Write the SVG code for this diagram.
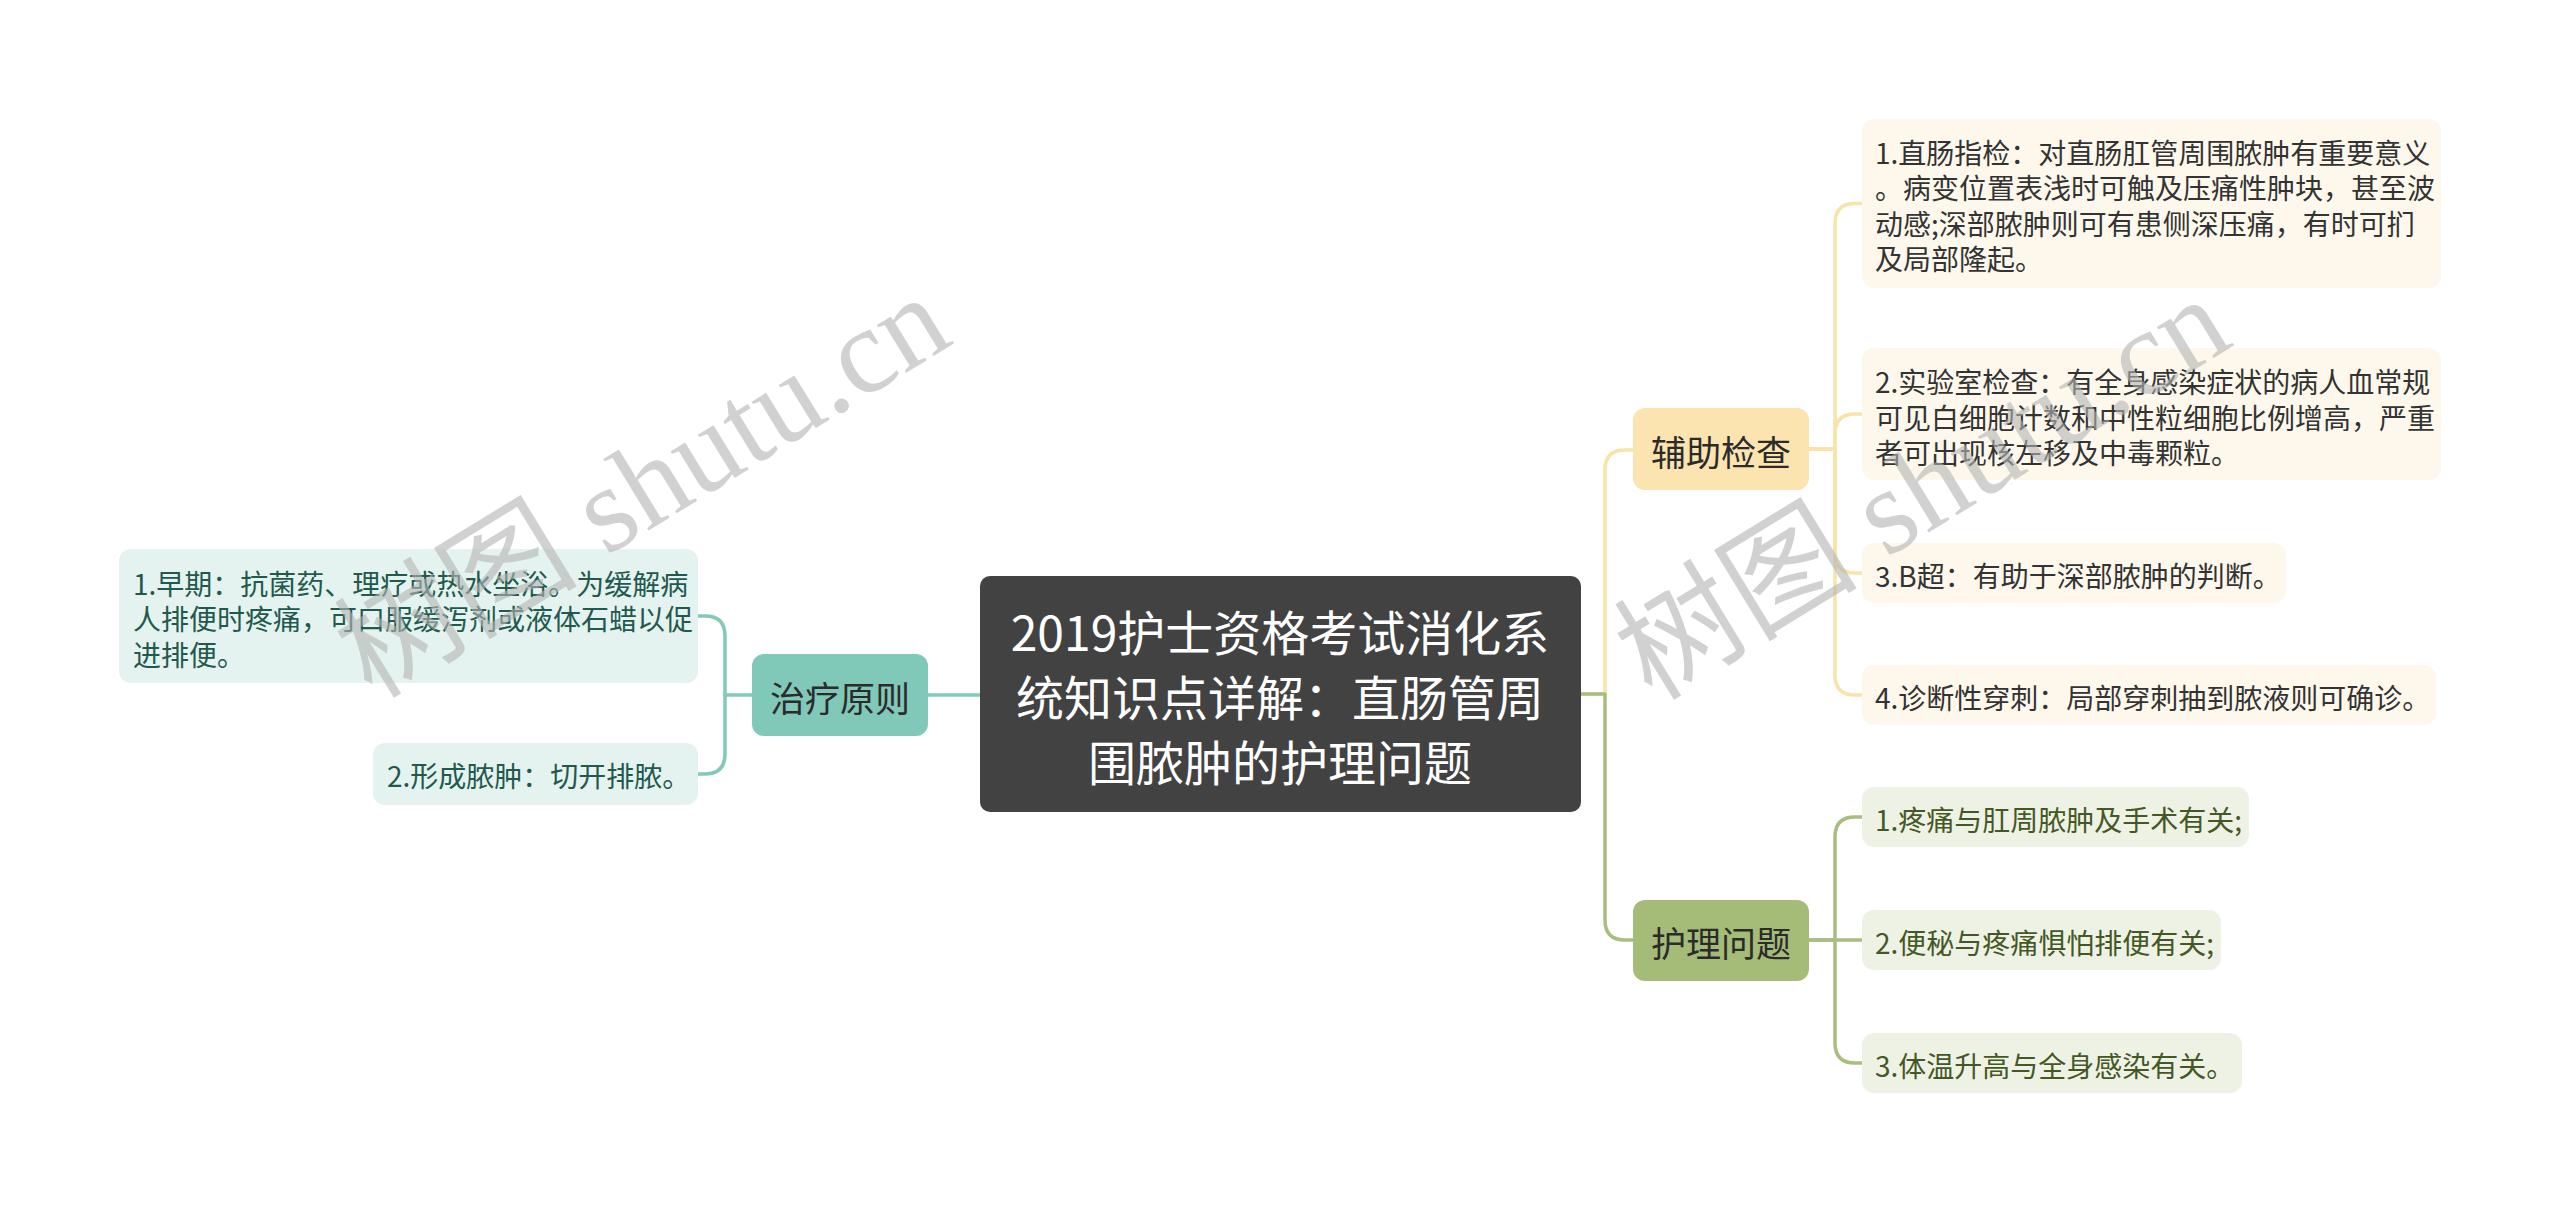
<svg xmlns="http://www.w3.org/2000/svg" width="2560" height="1213" viewBox="0 0 2560 1213">
<style>
.t{font-family:"Noto Sans CJK SC","Noto Sans",sans-serif;dominant-baseline:central}
.root{fill:#424242}
.roott{fill:#ffffff;font-size:48px;text-anchor:middle}
.br{font-size:35px;fill:#2b2b2b;text-anchor:middle}
.lf{font-size:28px}
.y1{fill:#fce4b0}.y2{fill:#fdf8eb}.yt{fill:#333333}
.g1{fill:#a5bb78}.g2{fill:#eef2e4}.gt{fill:#445826}
.c1{fill:#80c8b8}.c2{fill:#e4f3ef}.ct{fill:#22594e}
.ln{fill:none;stroke-width:3.5;stroke-linecap:round;stroke-linejoin:round}
.ly{stroke:#f8e3a9}.lg{stroke:#a8bd80}.lc{stroke:#83c9ba}
.wm{font-family:"Liberation Serif","Noto Sans CJK SC",serif;font-size:122px;fill:#b4b4b4;opacity:0.6}
</style>
<rect width="2560" height="1213" fill="#ffffff"/>
<g id="connectors">
<path class="ln ly" d="M1581,694 H1605 V470 Q1605,450 1625,450 H1633"/>
<path class="ln lg" d="M1581,694 H1605 V920 Q1605,940 1625,940 H1633"/>
<path class="ln lc" d="M980,695 H928"/>
<path class="ln ly" d="M1809,449 H1835 V223.5 Q1835,203.5 1855,203.5 H1862"/>
<path class="ln ly" d="M1809,449 H1835 V434 Q1835,414 1855,414 H1862"/>
<path class="ln ly" d="M1809,449 H1835 V553 Q1835,573 1855,573 H1862"/>
<path class="ln ly" d="M1809,449 H1835 V675 Q1835,695 1855,695 H1862"/>
<path class="ln lg" d="M1809,940 H1835 V837 Q1835,817 1855,817 H1862"/>
<path class="ln lg" d="M1809,940 H1862"/>
<path class="ln lg" d="M1835,940 V1043 Q1835,1063 1855,1063 H1862"/>
<path class="ln lc" d="M752,695 H725 V636 Q725,616 705,616 H698"/>
<path class="ln lc" d="M725,695 V754 Q725,774 705,774 H698"/>
</g>
<g id="root">
<rect class="root" x="980" y="576" width="601" height="236" rx="10"/>
<text class="t roott" x="1280" y="630">2019护士资格考试消化系</text>
<text class="t roott" x="1280" y="695">统知识点详解：直肠管周</text>
<text class="t roott" x="1280" y="760">围脓肿的护理问题</text>
</g>
<g id="fuzhu">
<rect class="y1" x="1633" y="408" width="176" height="82" rx="12"/>
<text class="t br" x="1721" y="450">辅助检查</text>
</g>
<g id="fuzhu-1">
<rect class="y2" x="1862" y="119" width="579" height="169" rx="12"/>
<text class="t lf yt" x="1875" y="151.5">1.直肠指检：对直肠肛管周围脓肿有重要意义</text>
<text class="t lf yt" x="1875" y="187">。病变位置表浅时可触及压痛性肿块，甚至波</text>
<text class="t lf yt" x="1875" y="222.5">动感;深部脓肿则可有患侧深压痛，有时可扪</text>
<text class="t lf yt" x="1875" y="258">及局部隆起。</text>
</g>
<g id="fuzhu-2">
<rect class="y2" x="1862" y="348" width="579" height="132" rx="12"/>
<text class="t lf yt" x="1875" y="381">2.实验室检查：有全身感染症状的病人血常规</text>
<text class="t lf yt" x="1875" y="416.5">可见白细胞计数和中性粒细胞比例增高，严重</text>
<text class="t lf yt" x="1875" y="452">者可出现核左移及中毒颗粒。</text>
</g>
<g id="fuzhu-3">
<rect class="y2" x="1862" y="543" width="424" height="60" rx="12"/>
<text class="t lf yt" x="1875" y="574.5">3.B超：有助于深部脓肿的判断。</text>
</g>
<g id="fuzhu-4">
<rect class="y2" x="1862" y="665" width="574" height="60" rx="12"/>
<text class="t lf yt" x="1875" y="696.5">4.诊断性穿刺：局部穿刺抽到脓液则可确诊。</text>
</g>
<g id="huli">
<rect class="g1" x="1633" y="900" width="176" height="81" rx="12"/>
<text class="t br" x="1721" y="941">护理问题</text>
</g>
<g id="huli-1">
<rect class="g2" x="1862" y="787" width="387" height="60" rx="12"/>
<text class="t lf gt" x="1875" y="818.5">1.疼痛与肛周脓肿及手术有关;</text>
</g>
<g id="huli-2">
<rect class="g2" x="1862" y="910" width="359" height="60" rx="12"/>
<text class="t lf gt" x="1875" y="941.5">2.便秘与疼痛惧怕排便有关;</text>
</g>
<g id="huli-3">
<rect class="g2" x="1862" y="1033" width="380" height="60" rx="12"/>
<text class="t lf gt" x="1875" y="1064.5">3.体温升高与全身感染有关。</text>
</g>
<g id="zhiliao">
<rect class="c1" x="752" y="654" width="176" height="82" rx="12"/>
<text class="t br" x="840" y="696">治疗原则</text>
</g>
<g id="zhiliao-1">
<rect class="c2" x="119" y="549" width="579" height="134" rx="12"/>
<text class="t lf ct" x="133" y="582.5">1.早期：抗菌药、理疗或热水坐浴。为缓解病</text>
<text class="t lf ct" x="133" y="618">人排便时疼痛，可口服缓泻剂或液体石蜡以促</text>
<text class="t lf ct" x="133" y="653.5">进排便。</text>
</g>
<g id="zhiliao-2">
<rect class="c2" x="373" y="743" width="325" height="62" rx="12"/>
<text class="t lf ct" x="387" y="775">2.形成脓肿：切开排脓。</text>
</g>
<g id="watermark">
<text class="wm" x="372" y="700" transform="rotate(-31.5 372 700)">树图 shutu.cn</text>
<text class="wm" x="1652" y="702" transform="rotate(-31.5 1652 702)">树图 shutu.cn</text>
</g>
</svg>
